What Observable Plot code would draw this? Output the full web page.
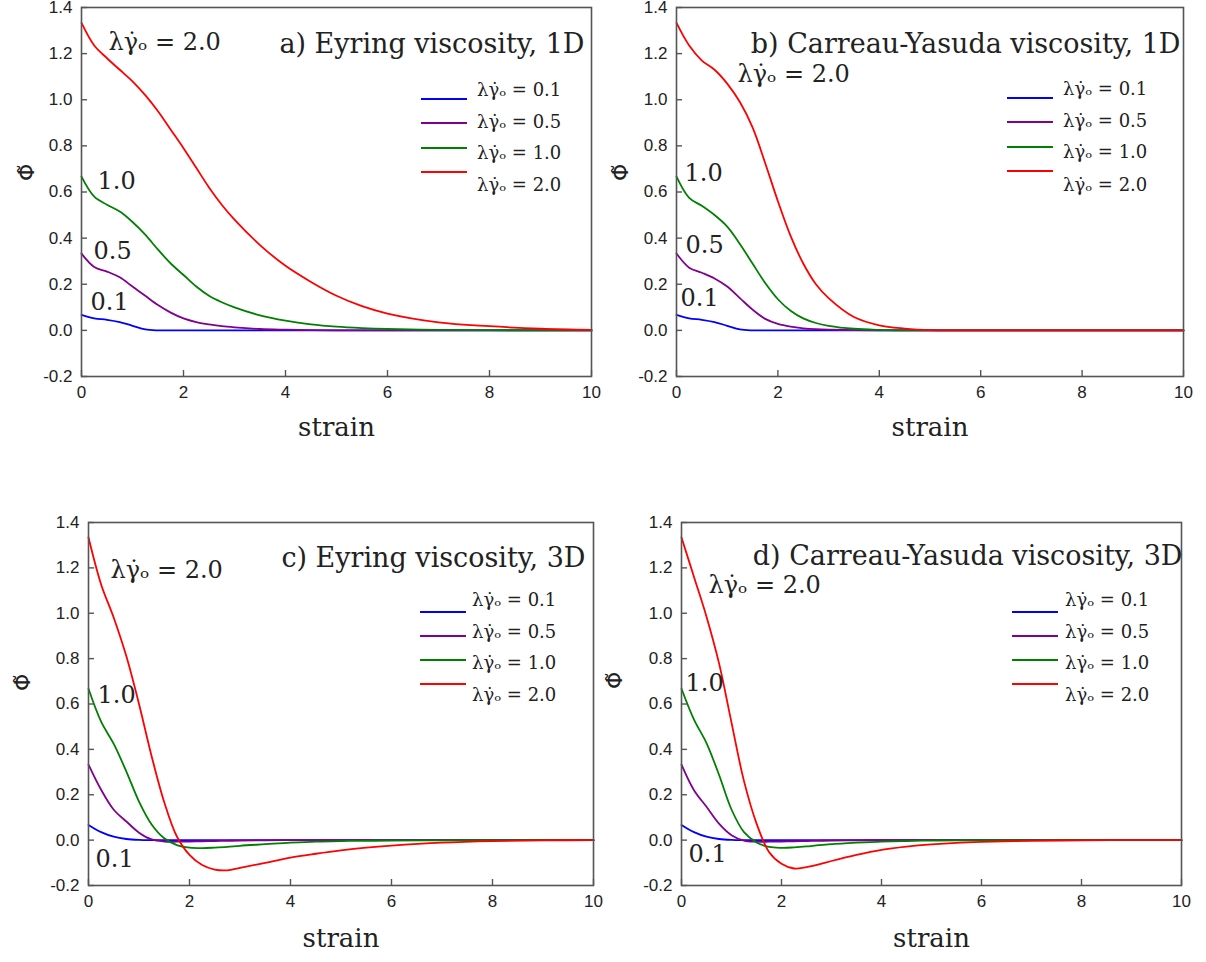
<!DOCTYPE html>
<html>
<head>
<meta charset="utf-8">
<script src="https://cdn.jsdelivr.net/npm/d3@7"></script>
<script src="https://cdn.jsdelivr.net/npm/@observablehq/plot@0.6"></script>
<style>
  body { margin: 0; background: #fff; }
  #fig { position: relative; width: 1206px; height: 962px; background: #fff; }
  #fig svg { position: absolute; overflow: visible; }
</style>
</head>
<body>
<div id="fig"></div>
<script>
// Common strain grid shared by every curve
const strain = [0, 0.25, 0.5, 0.75, 1, 1.25, 1.5, 1.75, 2, 2.25, 2.5, 2.75, 3, 3.5, 4, 4.5, 5, 5.5, 6, 7, 8, 9, 10];

// Series: dimensionless shear rate λγ̇ₒ
const rates = ["0.1", "0.5", "1.0", "2.0"];
const colors = ["#0000ff", "#800090", "#008000", "#ff0000"];

// a) Eyring viscosity, 1D
const eyring1D_01 = [0.067, 0.052, 0.046, 0.036, 0.020, 0.004, 0, 0, 0, 0, 0, 0, 0, 0, 0, 0, 0, 0, 0, 0, 0, 0, 0];
const eyring1D_05 = [0.333, 0.275, 0.255, 0.230, 0.190, 0.150, 0.110, 0.077, 0.052, 0.036, 0.026, 0.018, 0.013, 0.006, 0.003, 0.001, 0, 0, 0, 0, 0, 0, 0];
const eyring1D_10 = [0.667, 0.580, 0.545, 0.515, 0.470, 0.415, 0.350, 0.290, 0.240, 0.190, 0.150, 0.122, 0.100, 0.065, 0.042, 0.026, 0.016, 0.010, 0.006, 0.002, 0.001, 0, 0];
const eyring1D_20 = [1.333, 1.235, 1.180, 1.130, 1.080, 1.020, 0.950, 0.870, 0.790, 0.705, 0.620, 0.545, 0.480, 0.370, 0.280, 0.210, 0.150, 0.105, 0.073, 0.035, 0.018, 0.007, 0.002];

// b) Carreau-Yasuda viscosity, 1D
const carreau1D_01 = [0.067, 0.052, 0.046, 0.036, 0.020, 0.004, 0, 0, 0, 0, 0, 0, 0, 0, 0, 0, 0, 0, 0, 0, 0, 0, 0];
const carreau1D_05 = [0.333, 0.272, 0.250, 0.225, 0.190, 0.140, 0.090, 0.050, 0.028, 0.016, 0.009, 0.005, 0.003, 0.001, 0, 0, 0, 0, 0, 0, 0, 0, 0];
const carreau1D_10 = [0.667, 0.575, 0.540, 0.500, 0.450, 0.375, 0.290, 0.205, 0.135, 0.085, 0.052, 0.032, 0.020, 0.007, 0.002, 0, 0, 0, 0, 0, 0, 0, 0];
const carreau1D_20 = [1.333, 1.235, 1.170, 1.130, 1.070, 0.990, 0.880, 0.725, 0.560, 0.410, 0.290, 0.200, 0.140, 0.058, 0.022, 0.008, 0.001, 0, 0, 0, 0, 0, 0];

// c) Eyring viscosity, 3D
const eyring3D_01 = [0.067, 0.035, 0.015, 0.005, 0.001, 0, 0, 0, 0, 0, 0, 0, 0, 0, 0, 0, 0, 0, 0, 0, 0, 0, 0];
const eyring3D_05 = [0.333, 0.222, 0.134, 0.082, 0.033, 0.003, -0.006, -0.007, -0.006, -0.005, -0.004, -0.003, -0.002, -0.001, 0, 0, 0, 0, 0, 0, 0, 0, 0];
const eyring3D_10 = [0.667, 0.522, 0.424, 0.302, 0.170, 0.069, 0.008, -0.022, -0.033, -0.035, -0.033, -0.030, -0.025, -0.018, -0.011, -0.007, -0.004, -0.003, -0.002, -0.001, 0, 0, 0];
const eyring3D_20 = [1.334, 1.127, 0.980, 0.810, 0.600, 0.370, 0.167, 0.016, -0.065, -0.110, -0.130, -0.133, -0.122, -0.100, -0.077, -0.060, -0.045, -0.033, -0.024, -0.011, -0.004, -0.001, 0];

// d) Carreau-Yasuda viscosity, 3D
const carreau3D_01 = [0.067, 0.035, 0.015, 0.005, 0.001, 0, 0, 0, 0, 0, 0, 0, 0, 0, 0, 0, 0, 0, 0, 0, 0, 0, 0];
const carreau3D_05 = [0.333, 0.220, 0.147, 0.073, 0.022, -0.002, -0.007, -0.007, -0.006, -0.005, -0.004, -0.003, -0.002, -0.001, 0, 0, 0, 0, 0, 0, 0, 0, 0];
const carreau3D_10 = [0.667, 0.531, 0.428, 0.288, 0.135, 0.035, -0.010, -0.030, -0.034, -0.032, -0.028, -0.022, -0.018, -0.011, -0.007, -0.004, -0.002, -0.001, 0, 0, 0, 0, 0];
const carreau3D_20 = [1.334, 1.160, 0.985, 0.780, 0.518, 0.260, 0.074, -0.052, -0.104, -0.125, -0.119, -0.107, -0.092, -0.065, -0.043, -0.029, -0.019, -0.012, -0.008, -0.003, -0.001, 0, 0];

// Axis ticks
const xTicks = [0, 2, 4, 6, 8, 10];
const yTicks = [-0.2, 0.0, 0.2, 0.4, 0.6, 0.8, 1.0, 1.2, 1.4];

// Panel titles and in-plot curve labels
const titles = ["a) Eyring viscosity, 1D", "b) Carreau-Yasuda viscosity, 1D", "c) Eyring viscosity, 3D", "d) Carreau-Yasuda viscosity, 3D"];
const xLabel = "strain";
const yLabel = "Φ̃";
const rateSymbol = "λγ̇ₒ";

const SERIF = "'DejaVu Serif', 'Liberation Serif', serif";
const SANS = "'Liberation Sans', Arial, sans-serif";

const panels = [
  {
    title: titles[0], values: [eyring1D_01, eyring1D_05, eyring1D_10, eyring1D_20],
    left: 0, top: 0, width: 603, height: 480,
    margin: {left: 81, top: 7, right: 12, bottom: 104},
    titleOffset: {dx: -7, dy: 26},
    yLabelOffset: {dx: -55, dy: -11}, xLabelDy: 59,
    legend: {lineFromRight: 170, textFromRight: 114, lineY: [92, 116, 141, 165], textY: [83, 115, 146, 178]},
    labels: [
      {k: 3, full: true, dx: 27, dy: 19},
      {k: 2, dx: 16, dy: 5},
      {k: 1, dx: 12, dy: -2},
      {k: 0, dx: 9, dy: -13}
    ]
  },
  {
    title: titles[1], values: [carreau1D_01, carreau1D_05, carreau1D_10, carreau1D_20],
    left: 603, top: 0, width: 603, height: 480,
    margin: {left: 73, top: 7, right: 23, bottom: 104},
    titleOffset: {dx: -3, dy: 26},
    yLabelOffset: {dx: -56, dy: -11}, xLabelDy: 59,
    legend: {lineFromRight: 176, textFromRight: 120, lineY: [91, 115, 140, 164], textY: [82, 114, 145, 178]},
    labels: [
      {k: 3, full: true, dx: 61, dy: 51},
      {k: 2, dx: 8, dy: -3},
      {k: 1, dx: 9, dy: -8},
      {k: 0, dx: 4, dy: -17}
    ]
  },
  {
    title: titles[2], values: [eyring3D_01, eyring3D_05, eyring3D_10, eyring3D_20],
    left: 0, top: 480, width: 603, height: 482,
    margin: {left: 88, top: 42, right: 10, bottom: 77},
    titleOffset: {dx: -8, dy: 25},
    yLabelOffset: {dx: -66, dy: -13}, xLabelDy: 61,
    legend: {lineFromRight: 173, textFromRight: 121, lineY: [90, 114, 138, 162], textY: [78, 110, 141, 173]},
    labels: [
      {k: 3, full: true, dx: 22, dy: 33},
      {k: 2, dx: 9, dy: 7},
      {k: 0, dx: 7, dy: 34}
    ]
  },
  {
    title: titles[3], values: [carreau3D_01, carreau3D_05, carreau3D_10, carreau3D_20],
    left: 603, top: 480, width: 603, height: 482,
    margin: {left: 78, top: 42, right: 25, bottom: 77},
    titleOffset: {dx: 1, dy: 23},
    yLabelOffset: {dx: -67, dy: -15}, xLabelDy: 61,
    legend: {lineFromRight: 169, textFromRight: 116, lineY: [90, 114, 138, 162], textY: [78, 110, 141, 173]},
    labels: [
      {k: 3, full: true, dx: 27, dy: 48},
      {k: 2, dx: 4, dy: -5},
      {k: 0, dx: 7, dy: 29}
    ]
  }
];

// Legend drawn inside the frame's upper-right area
function legendMark(lg) {
  return (index, scales, values, dims) => {
    const ns = "http://www.w3.org/2000/svg";
    const g = document.createElementNS(ns, "g");
    g.setAttribute("text-anchor", "start");
    const right = dims.width - dims.marginRight;
    const top = dims.marginTop;
    rates.forEach((r, i) => {
      const line = document.createElementNS(ns, "line");
      const x1 = right - lg.lineFromRight;
      line.setAttribute("x1", x1);
      line.setAttribute("x2", x1 + 46);
      line.setAttribute("y1", top + lg.lineY[i]);
      line.setAttribute("y2", top + lg.lineY[i]);
      line.setAttribute("stroke", scales.color(r));
      line.setAttribute("stroke-width", 1.8);
      g.appendChild(line);
      const t = document.createElementNS(ns, "text");
      t.setAttribute("x", right - lg.textFromRight);
      t.setAttribute("y", top + lg.textY[i]);
      t.setAttribute("dy", "0.35em");
      t.setAttribute("text-anchor", "start");
      t.setAttribute("font-family", SERIF);
      t.setAttribute("font-size", 18);
      t.setAttribute("fill", "#222");
      t.textContent = `${rateSymbol} = ${r}`;
      g.appendChild(t);
    });
    return g;
  };
}

const fig = document.getElementById("fig");

panels.forEach(p => {
  const rows = [];
  p.values.forEach((vals, k) => vals.forEach((v, i) => rows.push({strain: strain[i], phi: v, rate: rates[k]})));

  const labelMarks = p.labels.map(l => Plot.text([l], {
    x: () => strain[0],
    y: () => p.values[l.k][0],
    text: () => l.full ? `${rateSymbol} = ${rates[l.k]}` : rates[l.k],
    dx: l.dx, dy: l.dy,
    textAnchor: "start",
    fontFamily: SERIF,
    fontSize: 24,
    fill: "#222"
  }));

  const chart = Plot.plot({
    width: p.width,
    height: p.height,
    marginLeft: p.margin.left,
    marginTop: p.margin.top,
    marginRight: p.margin.right,
    marginBottom: p.margin.bottom,
    x: {domain: [0, 10]},
    y: {domain: [-0.2, 1.4]},
    color: {domain: rates, range: colors},
    style: {fontFamily: SANS, fontSize: "17px", color: "#222", background: "transparent", overflow: "visible"},
    marks: [
      Plot.line(rows, {x: "strain", y: "phi", z: "rate", stroke: "rate", strokeWidth: 1.8, curve: "catmull-rom"}),
      Plot.frame({stroke: "#555", strokeWidth: 1.6}),
      Plot.axisX(xTicks, {tickSize: 0, tickPadding: 9, label: null, fill: "#222"}),
      Plot.axisX(xTicks, {text: null, tickSize: 6, dy: -6, label: null, stroke: "#555", strokeWidth: 1.4}),
      Plot.axisY(yTicks, {tickSize: 0, tickPadding: 9, label: null, tickFormat: d => d.toFixed(1), fill: "#222"}),
      Plot.axisY(yTicks, {text: null, tickSize: 6, dx: 6, label: null, stroke: "#555", strokeWidth: 1.4}),
      Plot.text([p.title], {frameAnchor: "top-right", textAnchor: "end", dx: p.titleOffset.dx, dy: p.titleOffset.dy, fontFamily: SERIF, fontSize: 27, fill: "#222"}),
      Plot.text([xLabel], {frameAnchor: "bottom", dy: p.xLabelDy, fontFamily: SERIF, fontSize: 26, fill: "#222"}),
      Plot.text([yLabel], {frameAnchor: "left", dx: p.yLabelOffset.dx, dy: p.yLabelOffset.dy, rotate: -90, fontFamily: "'DejaVu Sans', sans-serif", fontSize: 22, fill: "#222"}),
      ...labelMarks,
      legendMark(p.legend)
    ]
  });
  chart.style.left = p.left + "px";
  chart.style.top = p.top + "px";
  fig.appendChild(chart);
});
</script>
</body>
</html>
